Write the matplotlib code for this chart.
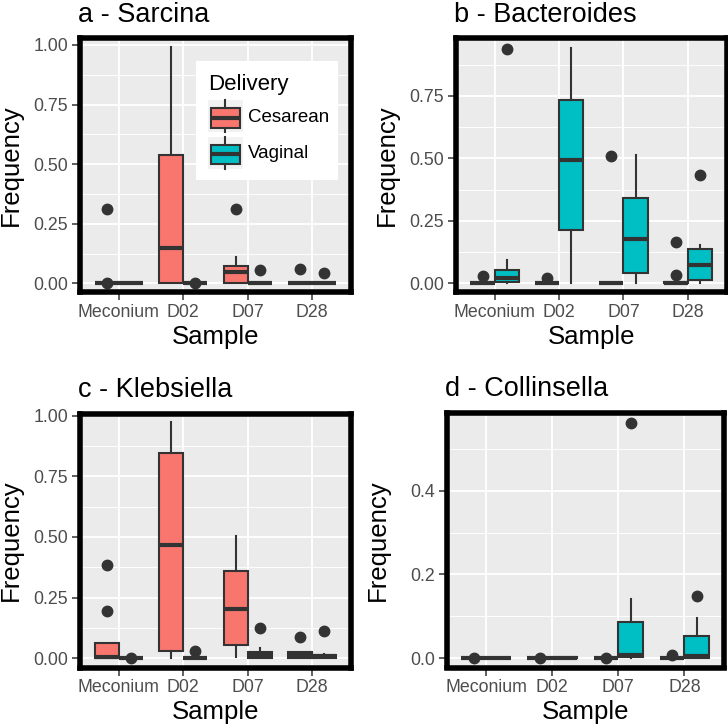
import numpy as np
import matplotlib
matplotlib.use('Agg')
import matplotlib.pyplot as plt
from matplotlib.ticker import FixedLocator, FormatStrFormatter
from matplotlib.patches import Rectangle

plt.rcParams['font.family'] = ['Liberation Sans', 'DejaVu Sans']

#------------------------------------------------------------------------------
# Data: per sample [lower whisker, q1, median, q3, upper whisker] + outliers
SAMPLES = ['Meconium', 'D02', 'D07', 'D28']
DELIVERY = ['Cesarean', 'Vaginal']
COLORS = ['#F8766D', '#00BFC4']
EDGE = '#333333'

sarcina_ces = [[0, 0, 0, 0, 0], [0, 0, 0.15, 0.54, 0.99],
               [0, 0, 0.047, 0.072, 0.11], [0, 0, 0, 0, 0]]
sarcina_ces_out = [[0.31, 0.0], [], [0.31], [0.058]]
sarcina_vag = [[0, 0, 0, 0, 0], [0, 0, 0, 0, 0],
               [0, 0, 0, 0, 0], [0, 0, 0, 0, 0]]
sarcina_vag_out = [[], [0.0], [0.055], [0.043]]

bact_ces = [[0, 0, 0, 0, 0], [0, 0, 0, 0, 0],
            [0, 0, 0, 0, 0], [0, 0, 0.002, 0.004, 0.006]]
bact_ces_out = [[0.028], [0.021], [0.509], [0.167, 0.033]]
bact_vag = [[0, 0.007, 0.02, 0.055, 0.092], [0, 0.215, 0.495, 0.733, 0.942],
            [0, 0.043, 0.176, 0.34, 0.513], [0, 0.013, 0.073, 0.136, 0.153]]
bact_vag_out = [[0.936], [], [], [0.433]]

kleb_ces = [[0, 0, 0.006, 0.061, 0.061], [0, 0.028, 0.465, 0.848, 0.975],
            [0.006, 0.055, 0.203, 0.359, 0.505], [0, 0, 0.012, 0.023, 0.023]]
kleb_ces_out = [[0.385, 0.196], [], [], [0.088]]
kleb_vag = [[0, 0, 0, 0, 0], [0, 0, 0, 0, 0],
            [0, 0.002, 0.014, 0.027, 0.04], [0, 0.002, 0.007, 0.012, 0.018]]
kleb_vag_out = [[0.0], [0.028], [0.123], [0.11]]

coll_ces = [[0, 0, 0, 0, 0], [0, 0, 0, 0, 0],
            [0, 0, 0, 0, 0], [0, 0, 0, 0, 0]]
coll_ces_out = [[0.0], [0.0], [0.0], [0.008]]
coll_vag = [[0, 0, 0, 0, 0], [0, 0, 0.001, 0.002, 0.002],
            [0, 0.003, 0.008, 0.087, 0.14], [0, 0.001, 0.004, 0.052, 0.095]]
coll_vag_out = [[], [], [0.563], [0.148]]

#------------------------------------------------------------------------------
W, H = 728, 727

def fx(px):
    return px / W

def fy(py):
    return 1 - py / H

def to_stats(rows, outs):
    return [dict(whislo=r[0], q1=r[1], med=r[2], q3=r[3], whishi=r[4],
                 fliers=o) for r, o in zip(rows, outs)]

def draw_boxes(ax, stats, positions, width, color):
    ax.bxp(stats, positions=positions, widths=width, patch_artist=True,
           showcaps=False, manage_ticks=False,
           boxprops=dict(facecolor=color, edgecolor=EDGE, linewidth=1.5),
           medianprops=dict(color=EDGE, linewidth=3.0, solid_capstyle='butt'),
           whiskerprops=dict(color=EDGE, linewidth=1.5),
           flierprops=dict(marker='o', markerfacecolor=EDGE,
                           markeredgecolor=EDGE, markersize=7.5))

def panel(fig, box, title, ylim, yticks, fmt, groups):
    left, top, right, bottom = box
    ax = fig.add_axes([fx(left), fy(bottom), fx(right - left),
                       (bottom - top) / H])
    ax.set_facecolor('#EBEBEB')
    x = np.arange(1, len(SAMPLES) + 1)
    for k, (rows, outs) in enumerate(groups):
        draw_boxes(ax, to_stats(rows, outs), x + (k - 0.5) * 0.375, 0.375,
                   COLORS[k])
    ax.set_xlim(0.4, 4.6)
    ax.set_ylim(*ylim)
    ax.set_xticks(x, SAMPLES)
    step = yticks[1] - yticks[0]
    ax.yaxis.set_major_locator(FixedLocator(yticks))
    ax.yaxis.set_minor_locator(FixedLocator(np.arange(step / 2, ylim[1], step)))
    ax.yaxis.set_major_formatter(FormatStrFormatter(fmt))
    ax.grid(which='major', color='white', linewidth=1.3)
    ax.grid(which='minor', axis='y', color='white', linewidth=0.65)
    ax.set_axisbelow(True)
    ax.tick_params(which='minor', length=0)
    ax.tick_params(which='major', length=6, width=1.1, color=EDGE,
                   labelcolor='#4D4D4D', labelsize=12.8, pad=2.5)
    for sp in ax.spines.values():
        sp.set_linewidth(4)
        sp.set_color('black')
        sp.set_zorder(5)

    # Naslov i oznake osa
    fig.text(fx(left - 2), fy(top - 16.5), title, fontsize=19.5,
             ha='left', va='baseline')
    fig.text(fx(left - 69), fy((top + bottom) / 2), 'Frequency', fontsize=18.5,
             rotation=90, ha='center', va='center')
    fig.text(fx((left + right) / 2), fy(bottom + 52), 'Sample', fontsize=18.5,
             ha='center', va='baseline')
    return ax

def legend(fig):
    lax = fig.add_axes([fx(196), fy(180), fx(142), 119 / H])
    lax.set_xlim(0, 142)
    lax.set_ylim(119, 0)
    lax.set_facecolor('white')
    lax.set_xticks([])
    lax.set_yticks([])
    for sp in lax.spines.values():
        sp.set_visible(False)
    lax.text(12, 29, 'Delivery', fontsize=16, ha='left', va='baseline')
    for k, name in enumerate(DELIVERY):
        y0 = 39 + k * 36.7
        lax.add_patch(Rectangle((12, y0), 34.7, 32.3, facecolor='#F2F2F2',
                                edgecolor='none'))
        glyph = [dict(whislo=y0 + 32.3, q1=y0 + 27.7, med=y0 + 17.7,
                      q3=y0 + 8, whishi=y0, fliers=[])]
        draw_boxes(lax, glyph, [29.4], 29.3, COLORS[k])
        lax.text(52, y0 + 17, name, fontsize=13.5, ha='left', va='center')

#------------------------------------------------------------------------------
def main():
    fig = plt.figure(figsize=(W / 100, H / 100), dpi=100)

    panel(fig, (80, 38, 351, 292), 'a - Sarcina', (-0.0365, 1.029),
          [0, 0.25, 0.5, 0.75, 1.0], '%.2f',
          [(sarcina_ces, sarcina_ces_out), (sarcina_vag, sarcina_vag_out)])
    panel(fig, (456, 38, 726.5, 292), 'b - Bacteroides', (-0.035, 0.981),
          [0, 0.25, 0.5, 0.75], '%.2f',
          [(bact_ces, bact_ces_out), (bact_vag, bact_vag_out)])
    panel(fig, (80, 413.5, 351, 667.5), 'c - Klebsiella', (-0.039, 1.010),
          [0, 0.25, 0.5, 0.75, 1.0], '%.2f',
          [(kleb_ces, kleb_ces_out), (kleb_vag, kleb_vag_out)])
    panel(fig, (446.5, 412.5, 724, 667.5), 'd - Collinsella', (-0.0227, 0.587),
          [0, 0.2, 0.4], '%.1f',
          [(coll_ces, coll_ces_out), (coll_vag, coll_vag_out)])
    legend(fig)

    fig.savefig('out.png', dpi=100)


if __name__ == "__main__":
    main()
